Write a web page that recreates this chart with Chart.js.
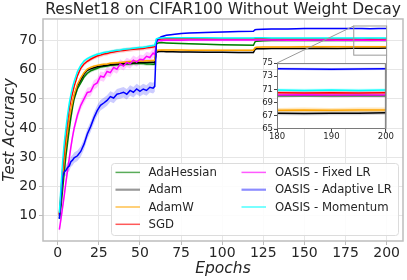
<!DOCTYPE html>
<html>
<head>
<meta charset="utf-8">
<script src="https://cdn.jsdelivr.net/npm/chart.js@4"></script>
<style>
html, body { margin: 0; padding: 0; background: #fff; }
#wrap { position: relative; width: 407px; height: 280px; }
#main { position: absolute; left: 0; top: 0; }
#inset { position: absolute; left: 255px; top: 57px; }
</style>
</head>
<body>
<div id="wrap">
  <canvas id="main" width="407" height="280"></canvas>
  <canvas id="inset" width="139" height="88"></canvas>
</div>
<script>
const epochs = [
  1, 2, 3, 4, 5, 6, 7, 8, 9, 10,
  12, 14, 16, 18, 20, 22, 24, 26, 28, 30,
  32, 34, 36, 38, 40, 42, 44, 46, 48, 50,
  52, 54, 56, 58, 59, 60, 61, 63, 66, 70,
  75, 80, 90, 100, 110, 119, 120, 121, 125, 130,
  140, 150, 160, 170, 180, 185, 190, 195, 200
];

const adaHessian = [
  9, 13, 19, 25, 30.5, 35, 39.5, 43.5, 47, 50,
  53.5, 55.5, 57.5, 58.8, 59.6, 60.1, 60.5, 60.9, 61.1, 61.3,
  61.5, 61.6, 61.7, 61.8, 61.9, 62.0, 62.0, 62.1, 62.1, 62.2,
  62.1, 62.0, 62.0, 61.9, 61.9, 68.8, 69.2, 69.3, 69.2, 69.1,
  69.0, 68.9, 68.7, 68.6, 68.5, 68.4, 69.6, 69.8, 69.9, 70.0,
  70.0, 70.05, 70.0, 70.1, 70.05, 70.1, 70.05, 70.1, 70.05
];
const adam = [
  10, 16, 23, 28.5, 34, 38.5, 42.3, 45.5, 48.5, 51,
  54.5, 56.5, 58.5, 59.8, 60.3, 60.7, 61.0, 61.2, 61.4, 61.5,
  61.7, 61.8, 61.9, 62.0, 62.1, 62.2, 62.2, 62.3, 62.4, 62.5,
  62.5, 62.5, 62.6, 62.6, 62.5, 65.9, 66.2, 66.3, 66.2, 66.2,
  66.1, 66.1, 66.0, 66.0, 65.9, 65.9, 67.0, 67.2, 67.2, 67.3,
  67.3, 67.3, 67.4, 67.3, 67.4, 67.35, 67.4, 67.4, 67.45
];
const adamW = [
  10.3, 16.5, 23.5, 29, 34.5, 39, 43, 46.2, 49, 51.5,
  55, 57.2, 59, 60.2, 60.8, 61.2, 61.5, 61.7, 61.9, 62.0,
  62.2, 62.3, 62.4, 62.5, 62.6, 62.7, 62.8, 62.8, 62.9, 63.0,
  63.0, 63.1, 63.1, 63.2, 63.2, 66.5, 66.7, 66.8, 66.8, 66.8,
  66.8, 66.7, 66.7, 66.7, 66.7, 66.7, 67.6, 67.7, 67.8, 67.8,
  67.8, 67.9, 67.85, 67.9, 67.85, 67.9, 67.85, 67.9, 67.9
];
const sgd = [
  10.5, 18, 26, 32.5, 38, 42.5, 46.5, 49.5, 52, 54.3,
  58, 60.5, 62, 62.9, 63.6, 64.2, 64.7, 65.0, 65.4, 65.6,
  65.9, 66.1, 66.3, 66.5, 66.6, 66.8, 66.9, 67.0, 67.1, 67.2,
  67.3, 67.5, 67.6, 67.8, 67.9, 70.2, 70.4, 70.5, 70.6, 70.6,
  70.6, 70.6, 70.5, 70.5, 70.5, 70.5, 70.6, 70.6, 70.6, 70.5,
  70.5, 70.5, 70.5, 70.5, 70.5, 70.45, 70.5, 70.45, 70.5
];
const oasisFixed = [
  5.2, 9, 13, 17, 21.5, 25.5, 29.5, 33.5, 37, 40,
  44.5, 47.8, 50, 52.2, 52.5, 54.8, 55.5, 57.8, 57.5, 59.4,
  59.0, 60.8, 60.2, 62.0, 61.3, 62.5, 62.0, 63.3, 62.6, 63.6,
  63.4, 64.6, 64.2, 65.7, 65.2, 69.5, 69.9, 70.0, 70.1, 70.1,
  70.1, 70.2, 70.2, 70.2, 70.2, 70.2, 70.2, 70.2, 70.2, 70.2,
  70.15, 70.15, 70.2, 70.15, 70.15, 70.2, 70.15, 70.15, 70.15
];
const oasisAdaptive = [
  8.9, 16, 23.3, 25, 25.5, 26.5, 27, 28.5, 29, 29.8,
  30.5, 32, 34.5, 38, 40.5, 43.5, 46, 47.8, 48.6, 49.5,
  50.8, 50.3, 51.6, 51.9, 52.3, 51.6, 52.9, 52.3, 53.4, 52.6,
  53.4, 52.9, 54.0, 53.7, 54.3, 69.5, 70.6, 71.3, 71.8, 72.1,
  72.4, 72.6, 72.8, 72.9, 73.1, 73.2, 73.7, 73.8, 73.9, 74.0,
  74.0, 74.1, 74.1, 74.1, 74.15, 74.1, 74.05, 74.1, 74.15
];
const oasisMomentum = [
  11, 20, 28.5, 35, 40, 44.5, 48.5, 51.5, 54, 56,
  59.4, 61.5, 63, 63.8, 64.4, 64.9, 65.3, 65.6, 65.9, 66.1,
  66.3, 66.5, 66.7, 66.8, 67.0, 67.1, 67.2, 67.4, 67.5, 67.6,
  67.7, 67.9, 68.1, 68.3, 68.4, 70.6, 70.8, 70.9, 71.0, 71.0,
  71.0, 71.0, 71.0, 70.9, 70.9, 70.9, 71.0, 71.0, 71.0, 70.9,
  70.9, 70.9, 70.9, 70.9, 70.9, 70.85, 70.9, 70.85, 70.9
];

// half width of the shaded band: [before epoch 60, from epoch 60]
const spreads = [[0.6, 0.25], [0.5, 0.3], [0.4, 0.35], [0.7, 0.3], [1.6, 0.4], [1.8, 0.2], [0.5, 0.25]];

const labels = ['AdaHessian', 'Adam', 'AdamW', 'SGD', 'OASIS - Fixed LR', 'OASIS - Adaptive LR', 'OASIS - Momentum'];
const series = [adaHessian, adam, adamW, sgd, oasisFixed, oasisAdaptive, oasisMomentum];
const colors = ['#008000', '#000000', '#ffa500', '#ff0000', '#ff00ff', '#0000ff', '#00ffff'];
const bandColors = ['rgba(0,128,0,0.2)', 'rgba(0,0,0,0.15)', 'rgba(255,165,0,0.25)', 'rgba(255,0,0,0.2)',
  'rgba(255,0,255,0.2)', 'rgba(0,0,255,0.2)', 'rgba(0,255,255,0.25)'];
const legendColors = ['rgba(0,128,0,0.65)', 'rgba(0,0,0,0.4)', 'rgba(255,165,0,0.7)', 'rgba(255,0,0,0.65)',
  'rgba(255,0,255,0.65)', 'rgba(0,0,255,0.45)', 'rgba(0,255,255,0.7)'];
const legendWidths = [1.5, 2.2, 1.5, 1.5, 1.5, 2.2, 1.5];

const xTicks = [0, 25, 50, 75, 100, 125, 150, 175, 200];
const yTicks = [10, 20, 30, 40, 50, 60, 70];
const insetXTicks = [180, 190, 200];
const insetYTicks = [65, 67, 69, 71, 73, 75];

// inset plot box, in main canvas pixels
const INSET = { left: 277, top: 63, right: 386, bottom: 129 };

Chart.defaults.font.family = "'DejaVu Sans', sans-serif";
Chart.defaults.color = '#262626';

function buildDatasets() {
  const sets = [];
  series.forEach((vals, i) => {
    const sd = k => (epochs[k] < 60 ? spreads[i][0] : spreads[i][1]);
    sets.push({
      data: vals.map((v, k) => ({ x: epochs[k], y: v - sd(k) })),
      borderColor: 'transparent', borderWidth: 0, pointRadius: 0, fill: false, order: 20
    });
    sets.push({
      data: vals.map((v, k) => ({ x: epochs[k], y: v + sd(k) })),
      borderColor: 'transparent', borderWidth: 0, pointRadius: 0,
      fill: sets.length - 1, backgroundColor: bandColors[i], order: 20
    });
  });
  series.forEach((vals, i) => {
    sets.push({
      label: labels[i],
      data: vals.map((v, k) => ({ x: epochs[k], y: v })),
      borderColor: colors[i], borderWidth: 1.5, pointRadius: 0, fill: false,
      order: 7 - i
    });
  });
  return sets;
}

const mainDecor = {
  id: 'mainDecor',
  afterDatasetsDraw(chart) {
    const { ctx, chartArea: a, scales: { x, y } } = chart;
    ctx.save();
    const rx0 = x.getPixelForValue(180), rx1 = x.getPixelForValue(200);
    const ry0 = y.getPixelForValue(75), ry1 = y.getPixelForValue(65);
    ctx.strokeStyle = '#9a9a9a';
    ctx.lineWidth = 1;
    ctx.strokeRect(rx0, ry0, rx1 - rx0, ry1 - ry0);
    ctx.beginPath();
    ctx.moveTo(rx0, ry0); ctx.lineTo(INSET.left, INSET.top);
    ctx.moveTo(rx1, ry1); ctx.lineTo(INSET.right, INSET.bottom);
    ctx.stroke();
    ctx.strokeStyle = '#bdbdbd';
    ctx.lineWidth = 1.5;
    ctx.strokeRect(a.left, a.top, a.width, a.height);
    ctx.restore();
  },
  afterDraw(chart) {
    const ctx = chart.ctx;
    ctx.save();
    // legend box
    const bx = 111, by = 163, bw = 287, bh = 72;
    ctx.fillStyle = 'rgba(255,255,255,0.85)';
    ctx.strokeStyle = '#dcdcdc';
    ctx.lineWidth = 1;
    ctx.beginPath();
    ctx.roundRect(bx + 0.5, by + 0.5, bw, bh, 3);
    ctx.fill();
    ctx.stroke();
    ctx.font = "11.7px 'DejaVu Sans'";
    ctx.textBaseline = 'middle';
    ctx.fillStyle = '#262626';
    labels.forEach((lab, i) => {
      const col = i < 4 ? 0 : 1;
      const row = i < 4 ? i : i - 4;
      const lx = col === 0 ? 115.5 : 241.5;
      const tx = col === 0 ? 148.5 : 275;
      const ly = 172.4 + row * 17.3;
      ctx.strokeStyle = legendColors[i];
      ctx.lineWidth = legendWidths[i];
      ctx.beginPath();
      ctx.moveTo(lx, ly); ctx.lineTo(lx + 24.5, ly);
      ctx.stroke();
      ctx.fillText(lab, tx, ly + 0.5);
    });
    ctx.restore();
  }
};

new Chart(document.getElementById('main'), {
  type: 'line',
  data: { datasets: buildDatasets() },
  options: {
    responsive: false,
    animation: false,
    devicePixelRatio: 1,
    layout: { padding: { top: 0, right: 4, bottom: 0, left: 0 } },
    plugins: {
      legend: { display: false },
      tooltip: { enabled: false },
      filler: { drawTime: 'beforeDatasetsDraw' },
      title: {
        display: true, fullSize: false,
        text: 'ResNet18 on CIFAR100 Without Weight Decay',
        font: { size: 15.5, weight: 'normal', lineHeight: 1.16 },
        padding: { top: 1, bottom: 0 }, color: '#262626'
      }
    },
    elements: { line: { tension: 0 } },
    scales: {
      x: {
        type: 'linear', min: -8.95, max: 209.95,
        afterBuildTicks: s => { s.ticks = xTicks.map(v => ({ value: v })); },
        afterFit: s => { s.height = 39; },
        ticks: { font: { size: 14 }, padding: 0, maxRotation: 0, autoSkip: false },
        grid: { color: '#e6e6e6', tickColor: '#bdbdbd', tickLength: 4 },
        border: { display: false },
        title: { display: true, text: 'Epochs', font: { size: 15.5, style: 'italic' }, padding: { top: 0, bottom: 2 } }
      },
      y: {
        type: 'linear', min: 1.3, max: 77.4,
        afterBuildTicks: s => { s.ticks = yTicks.map(v => ({ value: v })); },
        afterFit: s => { s.width = 43; },
        ticks: { font: { size: 14 }, padding: 2, autoSkip: false },
        grid: { color: '#e6e6e6', tickColor: '#bdbdbd', tickLength: 4 },
        border: { display: false },
        title: { display: true, text: 'Test Accuracy', font: { size: 15, style: 'italic' }, padding: { top: 1, bottom: 0 } }
      }
    }
  },
  plugins: [mainDecor]
});

const insetDecor = {
  id: 'insetDecor',
  beforeDraw(chart) {
    const { ctx, chartArea: a } = chart;
    ctx.save();
    ctx.fillStyle = '#ffffff';
    ctx.fillRect(a.left, a.top, a.width, a.height);
    ctx.restore();
  },
  afterDatasetsDraw(chart) {
    const { ctx, chartArea: a } = chart;
    ctx.save();
    ctx.strokeStyle = '#7a7a7a';
    ctx.lineWidth = 1;
    ctx.strokeRect(a.left + 0.5, a.top + 0.5, a.width - 1, a.height - 1);
    ctx.restore();
  }
};

new Chart(document.getElementById('inset'), {
  type: 'line',
  data: { datasets: buildDatasets() },
  options: {
    responsive: false,
    animation: false,
    devicePixelRatio: 1,
    layout: { padding: { top: 6, right: 8, bottom: 0, left: 0 } },
    plugins: {
      legend: { display: false },
      tooltip: { enabled: false },
      filler: { drawTime: 'beforeDatasetsDraw' }
    },
    elements: { line: { tension: 0 } },
    scales: {
      x: {
        type: 'linear', min: 180, max: 200,
        afterBuildTicks: s => { s.ticks = insetXTicks.map(v => ({ value: v })); },
        afterFit: s => { s.height = 16; },
        ticks: { font: { size: 8.5 }, padding: 0, maxRotation: 0, autoSkip: false },
        grid: { drawOnChartArea: false, tickColor: '#444', tickLength: 3 },
        border: { display: false }
      },
      y: {
        type: 'linear', min: 65, max: 75,
        afterBuildTicks: s => { s.ticks = insetYTicks.map(v => ({ value: v })); },
        afterFit: s => { s.width = 22; },
        ticks: { font: { size: 8.5 }, padding: 1, autoSkip: false },
        grid: { drawOnChartArea: false, tickColor: '#444', tickLength: 3 },
        border: { display: false }
      }
    }
  },
  plugins: [insetDecor]
});
</script>
</body>
</html>
